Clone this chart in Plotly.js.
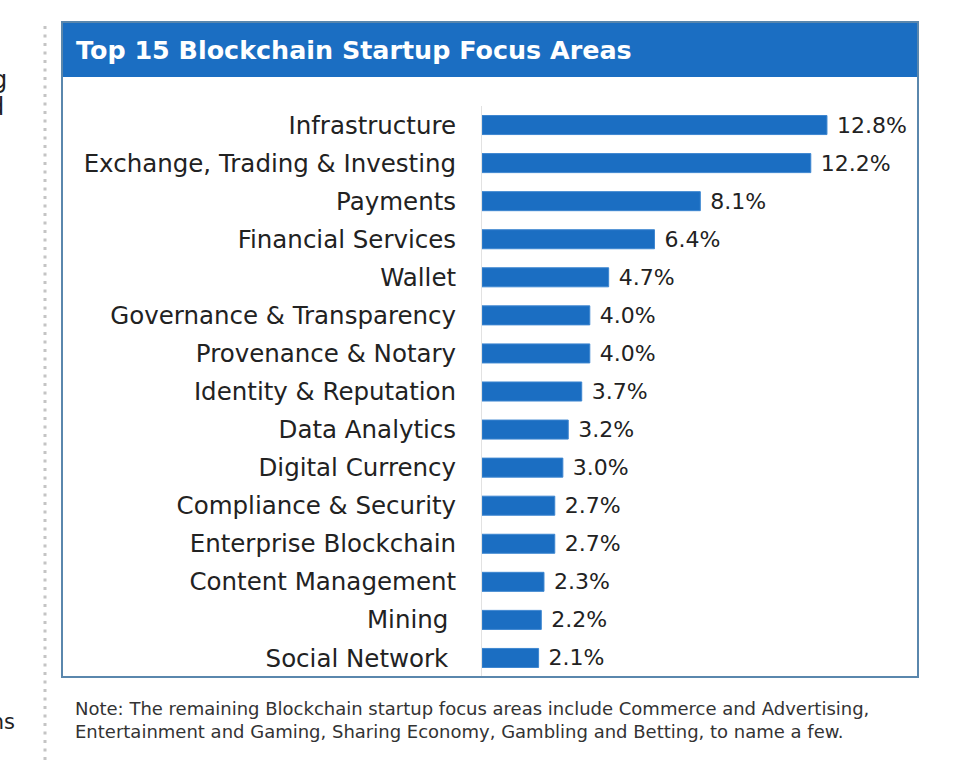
<!DOCTYPE html>
<html>
<head>
<meta charset="utf-8">
<script src="https://cdn.plot.ly/plotly-3.0.1.min.js"></script>
<style>html,body{margin:0;padding:0;background:#fff;}#chart{width:960px;height:770px;}</style>
</head>
<body>
<div id="chart"></div>
<script>
const categories = [
  "Infrastructure",
  "Exchange, Trading & Investing",
  "Payments",
  "Financial Services",
  "Wallet",
  "Governance & Transparency",
  "Provenance & Notary",
  "Identity & Reputation",
  "Data Analytics",
  "Digital Currency",
  "Compliance & Security",
  "Enterprise Blockchain",
  "Content Management",
  "Mining\u00a0",
  "Social Network\u00a0"
];
const shares = [12.8, 12.2, 8.1, 6.4, 4.7, 4.0, 4.0, 3.7, 3.2, 3.0, 2.7, 2.7, 2.3, 2.2, 2.1];
const valueLabels = ["12.8%", "12.2%", "8.1%", "6.4%", "4.7%", "4.0%", "4.0%", "3.7%", "3.2%", "3.0%", "2.7%", "2.7%", "2.3%", "2.2%", "2.1%"];
const titleText = "Top 15 Blockchain Startup Focus Areas";
const noteLines = [
  "Note: The remaining Blockchain startup focus areas include Commerce and Advertising,",
  "Entertainment and Gaming, Sharing Economy, Gambling and Betting, to name a few."
];
const edgeFragments = ["ing", "and", "ions"];

// layout geometry (pixels)
const W = 960, H = 770;
const mL = 482, mR = 42, mT = 106, mB = 93;
const plotW = W - mL - mR, plotH = H - mT - mB;
const pxPerUnit = 26.95;
const xMax = plotW / pxPerUnit;
const px2x = p => (p - mL) / plotW;
const px2y = p => (H - mB - p) / plotH;

const FONT = "'DejaVu Sans', 'Noto Sans', sans-serif";
const BLUE = "#1b6ec2";
const BORDER = "#5a87ad";

const trace = {
  type: "bar",
  orientation: "h",
  y: categories,
  x: shares,
  text: valueLabels,
  texttemplate: "\u00a0%{text}",
  textposition: "outside",
  constraintext: "none",
  cliponaxis: false,
  textfont: {family: FONT, size: 22, color: "#222"},
  outsidetextfont: {family: FONT, size: 22, color: "#222"},
  marker: {color: BLUE, line: {color: "#3d86d0", width: 1}},
  hoverinfo: "skip"
};

const shapes = [
  // title banner
  {type: "rect", xref: "paper", yref: "paper", x0: px2x(62), x1: px2x(918), y0: px2y(77), y1: px2y(22),
   fillcolor: BLUE, line: {width: 0}, layer: "below"},
  // outer box
  {type: "rect", xref: "paper", yref: "paper", x0: px2x(62), x1: px2x(918), y0: px2y(677), y1: px2y(22),
   fillcolor: "rgba(0,0,0,0)", line: {color: BORDER, width: 2}},
  // dotted separator at left
  {type: "line", xref: "paper", yref: "paper", x0: px2x(45), x1: px2x(45), y0: px2y(760), y1: px2y(22),
   line: {color: "#c4c4c4", width: 3, dash: "3px,5.5px"}}
];

const annotations = [
  {xref: "paper", yref: "paper", x: px2x(74), y: px2y(50), xanchor: "left", yanchor: "middle",
   text: "<b>" + titleText + "</b>", showarrow: false, font: {family: FONT, size: 25.4, color: "#ffffff"}},
  {xref: "paper", yref: "paper", x: px2x(73), y: px2y(708), xanchor: "left", yanchor: "middle",
   text: noteLines[0], showarrow: false, font: {family: FONT, size: 18, color: "#333"}},
  {xref: "paper", yref: "paper", x: px2x(73), y: px2y(731), xanchor: "left", yanchor: "middle",
   text: noteLines[1], showarrow: false, font: {family: FONT, size: 18, color: "#333"}},
  // cut-off text fragments at the left edge
  {xref: "paper", yref: "paper", x: px2x(9), y: px2y(80), xanchor: "right", yanchor: "middle",
   text: edgeFragments[0], showarrow: false, font: {family: FONT, size: 24, color: "#222"}},
  {xref: "paper", yref: "paper", x: px2x(6), y: px2y(107), xanchor: "right", yanchor: "middle",
   text: edgeFragments[1], showarrow: false, font: {family: FONT, size: 24, color: "#222"}},
  {xref: "paper", yref: "paper", x: px2x(17), y: px2y(722), xanchor: "right", yanchor: "middle",
   text: edgeFragments[2], showarrow: false, font: {family: FONT, size: 21, color: "#222"}}
];

const layout = {
  width: W, height: H,
  margin: {l: mL, r: mR, t: mT, b: mB, pad: 0},
  paper_bgcolor: "#ffffff",
  plot_bgcolor: "#ffffff",
  showlegend: false,
  bargap: 0.5,
  xaxis: {range: [0, xMax], visible: false, fixedrange: true},
  yaxis: {
    type: "category",
    autorange: "reversed",
    showgrid: false,
    zeroline: false,
    showline: true, linecolor: "#e2e2e2", linewidth: 1,
    ticks: "outside", ticklen: 20, tickcolor: "rgba(0,0,0,0)",
    tickfont: {family: FONT, size: 24.5, color: "#222"},
    fixedrange: true
  },
  shapes: shapes,
  annotations: annotations
};

Plotly.newPlot("chart", [trace], layout, {displayModeBar: false, staticPlot: true});
</script>
</body>
</html>
